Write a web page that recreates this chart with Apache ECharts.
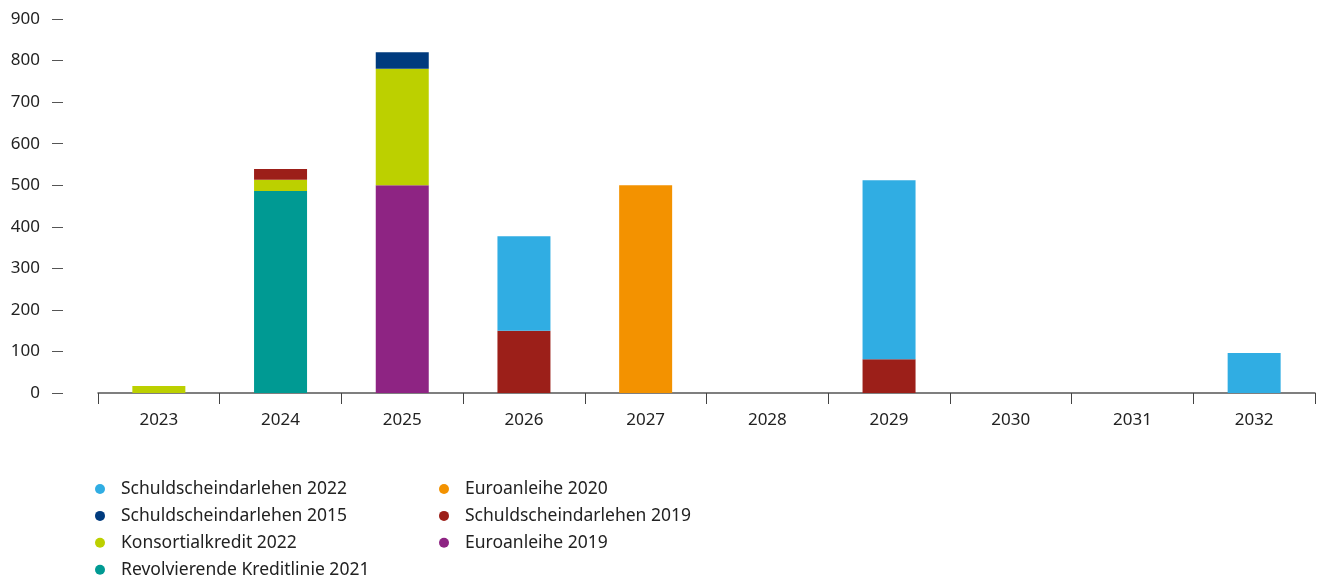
<!DOCTYPE html>
<html>
<head>
<meta charset="utf-8">
<script src="https://cdn.jsdelivr.net/npm/echarts@6/dist/echarts.min.js"></script>
<style>
  html, body { margin: 0; padding: 0; background: #fff; }
  #chart { width: 1323px; height: 576px; }
</style>
</head>
<body>
<div id="chart"></div>
<script>
// Maturity years
const years = ['2023', '2024', '2025', '2026', '2027', '2028', '2029', '2030', '2031', '2032'];

// Amounts per instrument and year (Mio. €)
const revolvierendeKreditlinie2021 = [0, 486, 0, 0, 0, 0, 0, 0, 0, 0];
const euroanleihe2019 = [0, 0, 500, 0, 0, 0, 0, 0, 0, 0];
const euroanleihe2020 = [0, 0, 0, 0, 500, 0, 0, 0, 0, 0];
const konsortialkredit2022 = [17, 27, 280, 0, 0, 0, 0, 0, 0, 0];
const schuldschein2019 = [0, 26, 0, 150, 0, 0, 81, 0, 0, 0];
const schuldschein2015 = [0, 0, 40, 0, 0, 0, 0, 0, 0, 0];
const schuldschein2022 = [0, 0, 0, 227, 0, 0, 431, 0, 0, 96];

// Y-axis ticks
const yTicks = { min: 0, max: 900, interval: 100 };

const legendLeft = ['Schuldscheindarlehen 2022', 'Schuldscheindarlehen 2015', 'Konsortialkredit 2022', 'Revolvierende Kreditlinie 2021'];
const legendRight = ['Euroanleihe 2020', 'Schuldscheindarlehen 2019', 'Euroanleihe 2019'];

// Stacking order from bottom to top
const seriesDefs = [
  { name: 'Revolvierende Kreditlinie 2021', data: revolvierendeKreditlinie2021, color: '#009A93' },
  { name: 'Euroanleihe 2019', data: euroanleihe2019, color: '#8E2483' },
  { name: 'Euroanleihe 2020', data: euroanleihe2020, color: '#F39200' },
  { name: 'Konsortialkredit 2022', data: konsortialkredit2022, color: '#BCD000' },
  { name: 'Schuldscheindarlehen 2019', data: schuldschein2019, color: '#9C1F19' },
  { name: 'Schuldscheindarlehen 2015', data: schuldschein2015, color: '#003B7E' },
  { name: 'Schuldscheindarlehen 2022', data: schuldschein2022, color: '#30ADE3' }
];

const FONT = '"Noto Sans", "Open Sans", sans-serif';

const legendBase = {
  orient: 'vertical',
  top: 475,
  height: 140,
  icon: 'circle',
  itemWidth: 32,
  itemHeight: 10,
  itemGap: 8.9,
  selectedMode: false,
  textStyle: { fontFamily: FONT, fontSize: 17.5, color: '#222', lineHeight: 17.5 }
};

const chart = echarts.init(document.getElementById('chart'), null, { renderer: 'canvas' });
chart.setOption({
  animation: false,
  backgroundColor: '#ffffff',
  grid: { left: 98, right: 8, top: 19, bottom: 183 },
  legend: [
    Object.assign({}, legendBase, { left: 90, data: legendLeft }),
    Object.assign({}, legendBase, { left: 434, data: legendRight })
  ],
  xAxis: [
    {
      type: 'category',
      data: years,
      position: 'bottom',
      offset: 21,
      axisLine: { show: false },
      axisTick: { show: true, length: 11, lineStyle: { color: '#444', width: 1 } },
      axisLabel: { margin: -2, fontFamily: FONT, fontSize: 17, color: '#222' }
    },
    {
      type: 'category',
      data: years,
      position: 'bottom',
      offset: 0,
      axisLine: { show: true, lineStyle: { color: '#555', width: 1.5 } },
      axisTick: { show: false },
      axisLabel: { show: false }
    }
  ],
  yAxis: {
    type: 'value',
    min: yTicks.min,
    max: yTicks.max,
    interval: yTicks.interval,
    offset: 35,
    axisLine: { show: false },
    axisTick: { show: true, length: 11, lineStyle: { color: '#555', width: 1 } },
    splitLine: { show: false },
    axisLabel: { margin: 23, fontFamily: FONT, fontSize: 17, color: '#222' }
  },
  series: seriesDefs.map(s => ({
    name: s.name,
    type: 'bar',
    stack: 'total',
    barWidth: 53,
    xAxisIndex: 0,
    itemStyle: { color: s.color },
    emphasis: { disabled: true },
    data: s.data
  }))
});
</script>
</body>
</html>
